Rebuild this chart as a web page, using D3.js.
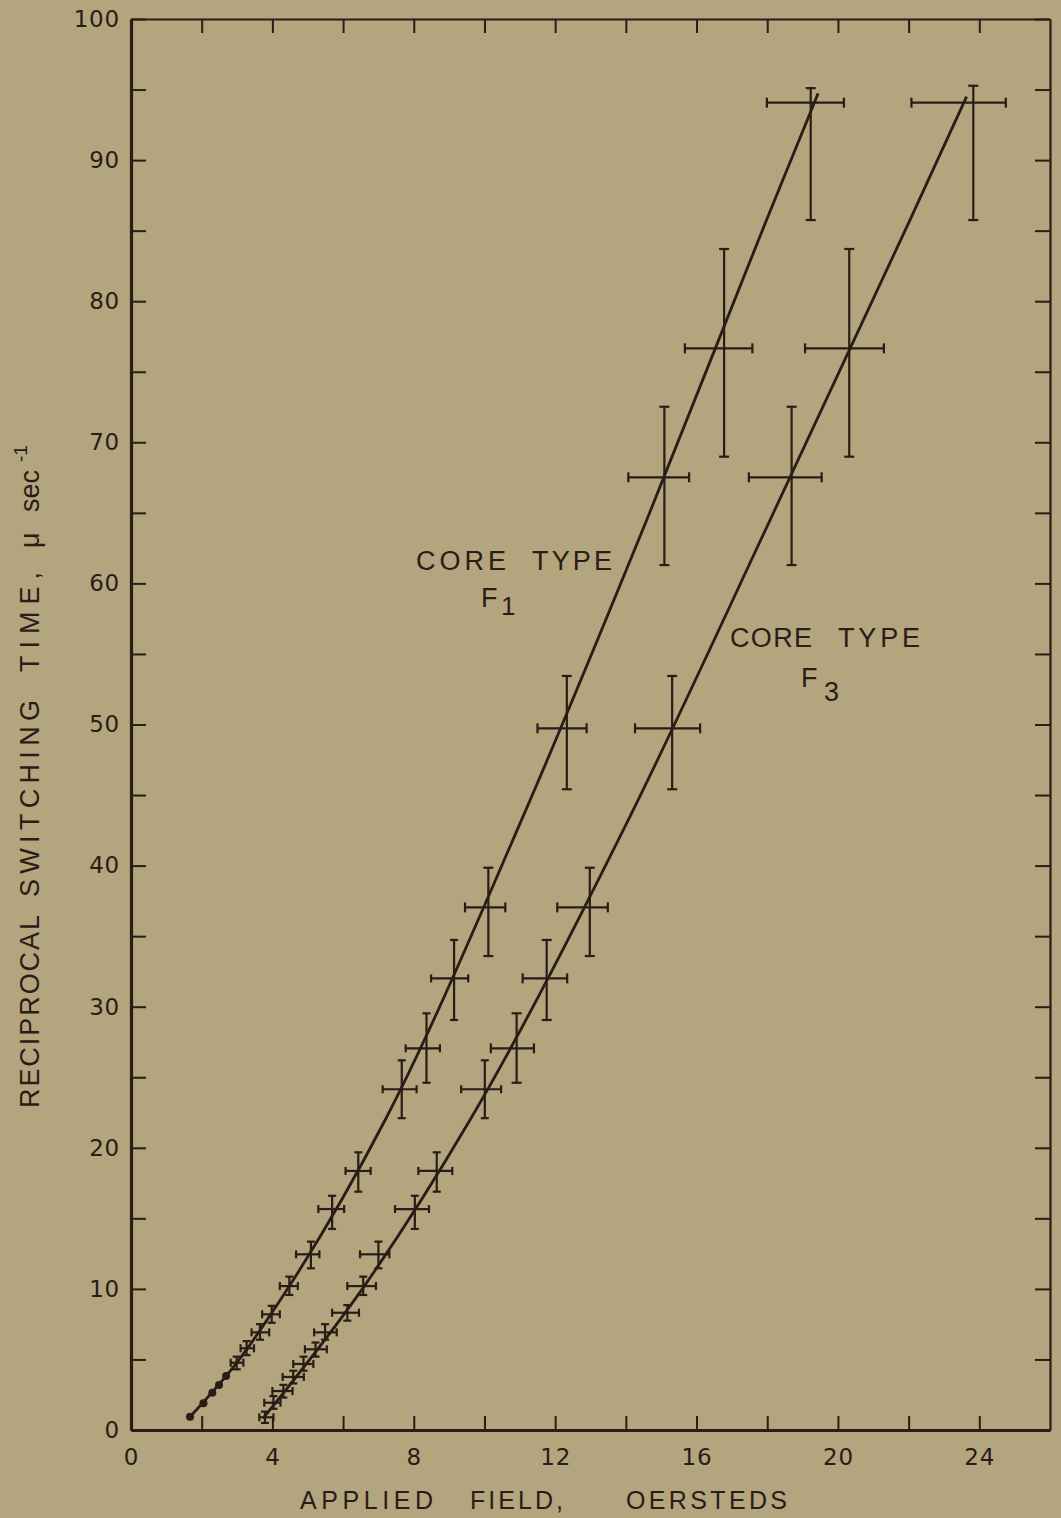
<!DOCTYPE html>
<html>
<head>
<meta charset="utf-8">
<script src="https://cdn.jsdelivr.net/npm/d3@7"></script>
<style>
  body { margin: 0; background: #b3a57d; }
  svg text { font-family: "Liberation Sans", Arial, sans-serif; fill: #2a1c16; }
</style>
</head>
<body>
<svg id="chart" width="1061" height="1518"></svg>
<script>
// measured points, [x, y, xLo, xHi, yLo, yHi]
const f1Points = [
    [2.99, 4.77, 2.82, 3.18, 4.3, 5.2],
    [3.27, 5.79, 3.10, 3.48, 5.3, 6.3],
    [3.65, 6.92, 3.41, 3.91, 6.4, 7.5],
    [3.98, 8.2, 3.71, 4.21, 7.6, 8.8],
    [4.48, 10.2, 4.21, 4.72, 9.57, 10.87],
    [5.09, 12.45, 4.67, 5.33, 11.46, 13.35],
    [5.69, 15.66, 5.3, 6.03, 14.25, 16.6],
    [6.43, 18.36, 6.07, 6.78, 16.89, 19.68],
    [7.66, 24.15, 7.12, 8.08, 22.1, 26.2],
    [8.36, 27.05, 7.77, 8.74, 24.61, 29.53],
    [9.14, 32.01, 8.49, 9.54, 29.06, 34.73],
    [10.11, 37.04, 9.45, 10.59, 33.59, 39.85],
    [12.33, 49.73, 11.5, 12.89, 45.41, 53.44],
    [15.09, 67.52, 14.07, 15.79, 61.3, 72.52],
    [16.78, 76.66, 15.67, 17.58, 68.98, 83.7],
    [19.23, 94.07, 17.99, 20.17, 85.75, 95.1]
];
const f1Dots = [[1.67, 0.94], [2.05, 1.89], [2.30, 2.64], [2.49, 3.19], [2.69, 3.83]];

const f3Points = [
    [3.79, 0.9, 3.63, 4.03, 0.5, 1.3],
    [4.03, 1.93, 3.77, 4.23, 1.5, 2.4],
    [4.31, 2.76, 4.0, 4.57, 2.3, 3.2],
    [4.59, 3.76, 4.29, 4.89, 3.3, 4.2],
    [4.88, 4.68, 4.59, 5.16, 4.2, 5.2],
    [5.22, 5.72, 4.92, 5.54, 5.2, 6.2],
    [5.49, 6.92, 5.18, 5.82, 6.4, 7.5],
    [6.12, 8.31, 5.69, 6.45, 7.75, 8.85],
    [6.57, 10.2, 6.12, 6.93, 9.57, 10.87],
    [7.0, 12.45, 6.48, 7.31, 11.46, 13.35],
    [8.03, 15.66, 7.47, 8.43, 14.25, 16.6],
    [8.65, 18.36, 8.13, 9.09, 16.89, 19.68],
    [10.01, 24.15, 9.34, 10.47, 22.1, 26.2],
    [10.91, 27.05, 10.18, 11.4, 24.61, 29.53],
    [11.76, 32.01, 11.08, 12.34, 29.06, 34.73],
    [12.98, 37.04, 12.06, 13.49, 33.59, 39.85],
    [15.31, 49.73, 14.26, 16.1, 45.41, 53.44],
    [18.69, 67.52, 17.48, 19.54, 61.3, 72.52],
    [20.32, 76.66, 19.07, 21.3, 68.98, 83.7],
    [23.83, 94.07, 22.08, 24.75, 85.75, 95.27]
];

// hand-drawn fitted curves
const f1Fit = [[1.67, 0.94], [3.0, 4.8], [4.48, 10.2], [7.19, 21.97], [11.05, 43.24], [14.59, 64.49], [17.98, 85.76], [19.44, 94.73]];
const f3Fit = [[3.74, 0.83], [6.6, 10.2], [9.59, 21.97], [14.07, 43.24], [18.08, 64.49], [22.04, 85.76], [23.64, 94.5]];

const xTickValues = [0, 2, 4, 6, 8, 10, 12, 14, 16, 18, 20, 22, 24];
const xLabelValues = [0, 4, 8, 12, 16, 20, 24];
const yTickValues = [0, 5, 10, 15, 20, 25, 30, 35, 40, 45, 50, 55, 60, 65, 70, 75, 80, 85, 90, 95, 100];
const yLabelValues = [0, 10, 20, 30, 40, 50, 60, 70, 80, 90, 100];

const ink = '#2a1c16';

let svg = d3.select('#chart');

let x = d3.scaleLinear().domain([0, 26]).range([131, 1050]),
    y = d3.scaleLinear().domain([0, 100]).range([1430, 19]);

function styleAxis(g, w) {
    g.select('.domain').attr('stroke', ink).attr('stroke-width', w);
    g.selectAll('.tick line').attr('stroke', ink).attr('stroke-width', 2);
    g.selectAll('.tick text')
        .style('font-family', '"DejaVu Sans", sans-serif')
        .style('font-size', '23px')
        .style('letter-spacing', '0.8px')
        .attr('fill', ink);
}

svg.append('g')
    .attr('transform', `translate(0,${y(100)})`)
    .call(d3.axisTop(x).tickValues(xTickValues).tickSize(-14).tickSizeOuter(0).tickFormat(''))
    .call(g => styleAxis(g, 2.2));

svg.append('g')
    .attr('transform', `translate(${x(26)},0)`)
    .call(d3.axisRight(y).tickValues(yTickValues).tickSize(-15).tickSizeOuter(0).tickFormat(''))
    .call(g => styleAxis(g, 2.2));

svg.append('g')
    .attr('transform', `translate(0,${y(0)})`)
    .call(d3.axisBottom(x).tickValues(xTickValues).tickSize(-14).tickSizeOuter(0).tickPadding(19)
        .tickFormat(d => xLabelValues.includes(d) ? d : ''))
    .call(g => styleAxis(g, 3.2));

svg.append('g')
    .attr('transform', `translate(${x(0)},0)`)
    .call(d3.axisLeft(y).tickValues(yTickValues).tickSize(-15).tickSizeOuter(0).tickPadding(11)
        .tickFormat(d => yLabelValues.includes(d) ? d : ''))
    .call(g => styleAxis(g, 3.2));

// fitted curves
let line = d3.line().x(d => x(d[0])).y(d => y(d[1])).curve(d3.curveMonotoneX);

[f1Fit, f3Fit].forEach(fit => svg.append('path')
    .datum(fit)
    .attr('d', line)
    .attr('fill', 'none')
    .attr('stroke', ink)
    .attr('stroke-width', 2.8));

// error crosses
function drawCrosses(points) {
    let g = svg.append('g').attr('stroke', ink).attr('stroke-width', 2.2).attr('fill', 'none');
    points.forEach(p => {
        let [px, py, xLo, xHi, yLo, yHi] = p;
        let cap = (x(xHi) - x(xLo)) > 40 ? 5 : 4;
        g.append('line').attr('x1', x(xLo)).attr('x2', x(xHi)).attr('y1', y(py)).attr('y2', y(py));
        g.append('line').attr('x1', x(xLo)).attr('x2', x(xLo)).attr('y1', y(py) - cap).attr('y2', y(py) + cap);
        g.append('line').attr('x1', x(xHi)).attr('x2', x(xHi)).attr('y1', y(py) - cap).attr('y2', y(py) + cap);
        g.append('line').attr('x1', x(px)).attr('x2', x(px)).attr('y1', y(yLo)).attr('y2', y(yHi));
        g.append('line').attr('x1', x(px) - cap).attr('x2', x(px) + cap).attr('y1', y(yLo)).attr('y2', y(yLo));
        g.append('line').attr('x1', x(px) - cap).attr('x2', x(px) + cap).attr('y1', y(yHi)).attr('y2', y(yHi));
    });
}
drawCrosses(f1Points);
drawCrosses(f3Points);

svg.append('g').selectAll('circle').data(f1Dots).enter()
    .append('circle')
    .attr('cx', d => x(d[0]))
    .attr('cy', d => y(d[1]))
    .attr('r', 4)
    .attr('fill', ink);

// text placed word by word, [text, start, length]
function words(list, size, place) {
    list.forEach(([t, start, len]) => {
        let el = svg.append('text').style('font-size', size + 'px').text(t);
        if (len) el.attr('textLength', len).attr('lengthAdjust', 'spacing');
        place(el, start);
    });
}

// curve labels
words([['CORE', 416, 90], ['TYPE', 532, 80]], 27, (el, s) => el.attr('x', s).attr('y', 570));
svg.append('text').attr('x', 481).attr('y', 607).style('font-size', '27px').text('F');
svg.append('text').attr('x', 501).attr('y', 615).style('font-size', '26px').text('1');

words([['CORE', 730, 82], ['TYPE', 838, 82]], 27, (el, s) => el.attr('x', s).attr('y', 647));
svg.append('text').attr('x', 801).attr('y', 687).style('font-size', '27px').text('F');
svg.append('text').attr('x', 824).attr('y', 701).style('font-size', '27px').text('3');

// axis titles
words([['APPLIED', 300, 133], ['FIELD,', 470, 93], ['OERSTEDS', 626, 161]], 25,
    (el, s) => el.attr('x', s).attr('y', 1509));

words([['RECIPROCAL', 1108, 193], ['SWITCHING', 897, 197], ['TIME,', 672, 100], ['μ', 548, 0], ['sec', 512, 0]], 27,
    (el, s) => el.attr('transform', `translate(39,${s}) rotate(-90)`));
svg.append('text')
    .attr('transform', 'translate(27,462) rotate(-90)')
    .style('font-size', '19px').text('-1');
</script>
</body>
</html>
